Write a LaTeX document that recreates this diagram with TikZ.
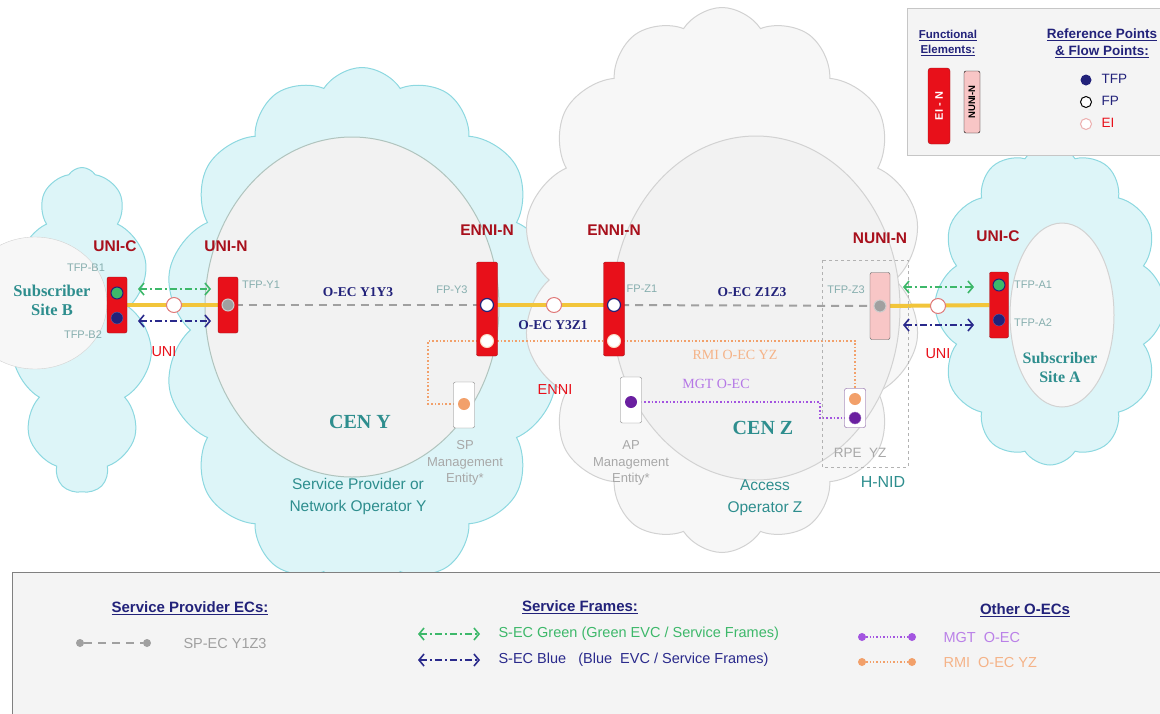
\documentclass[tikz,border=0pt]{standalone}
\usepackage{fontspec}
\setmainfont{Liberation Sans}
\newfontfamily\serifbold{Liberation Serif}
\usetikzlibrary{shapes.symbols,arrows.meta}

\definecolor{elemred}{HTML}{E8101A}
\definecolor{elemrim}{HTML}{A01018}
\definecolor{darkred}{HTML}{A8101C}
\definecolor{navy}{HTML}{22227A}
\definecolor{sitetext}{HTML}{2E8E8E}
\definecolor{tfpgray}{HTML}{86AEAE}
\definecolor{evcgreen}{HTML}{3DB86A}
\definecolor{evcblue}{HTML}{2A2A8C}
\definecolor{uniyellow}{HTML}{F2C53A}
\definecolor{ecgray}{HTML}{A0A0A0}
\definecolor{eirim}{HTML}{E07A7A}
\definecolor{rmiorange}{HTML}{F2A06A}
\definecolor{mgtpurple}{HTML}{A355E0}
\definecolor{rpepurple}{HTML}{6A1FA0}
\definecolor{cyanfill}{HTML}{DDF5F8}
\definecolor{cyanrim}{HTML}{8CD8E0}
\definecolor{grayfill}{HTML}{F7F7F7}
\definecolor{grayrim}{HTML}{D2D2D2}
\definecolor{cenfill}{HTML}{F2F2F2}
\definecolor{cenrim}{HTML}{B0C4BE}
\definecolor{keyfill}{HTML}{F4F4F4}
\definecolor{nunipink}{HTML}{F8C6C6}
\definecolor{mgmtgray}{HTML}{A8A8A8}

\pgfdeclarelayer{back}
\pgfdeclarelayer{wires}
\pgfsetlayers{back,wires,main}

\begin{document}
\begin{tikzpicture}[x=1pt,y=-1pt,
    elem/.style={draw=elemrim,fill=elemred,rounded corners=2pt,minimum width=20pt,inner sep=0pt},
    fe/.style={text=darkred,font=\fontsize{15.5}{15.5}\selectfont\bfseries},
    tfp/.style={text=tfpgray,font=\fontsize{11}{11}\selectfont},
    oec/.style={text=navy,font=\fontsize{13.5}{13.5}\serifbold\bfseries},
    spot/.style={circle,inner sep=0pt,minimum size=12pt},
    ei/.style={spot,draw=eirim,fill=white,line width=1pt,minimum size=15pt},
    fp/.style={spot,draw=navy,fill=white,line width=1.2pt,minimum size=13pt},
    uniline/.style={uniyellow,line width=4pt},
    ecline/.style={ecgray,line width=2pt,dash pattern=on 8pt off 6pt},
    sframe/.style={line width=1.6pt,dash pattern=on 7pt off 3pt on 2pt off 3pt,
      {Straight Barb[length=5pt,width=12pt]}-{Straight Barb[length=5pt,width=12pt]}},
    mbox/.style={draw=gray,fill=white,rounded corners=2pt,minimum width=21pt,minimum height=46pt},
    keyhead/.style={text=navy,align=center,font=\fontsize{15}{18}\selectfont\bfseries},
    keytext/.style={anchor=west,font=\fontsize{14.5}{14.5}\selectfont}]
\useasboundingbox (0,0) rectangle (1160,713);

% clouds and networks
\begin{pgfonlayer}{back}
  \node[cloud,cloud puffs=11,cloud puff arc=115,cloud ignores aspect,draw=cyanrim,fill=cyanfill,
    line width=1pt,minimum width=140pt,minimum height=325pt] (cloudB) at (82,330) {};
  \fill[grayfill,draw=grayrim] (35,303) ellipse [x radius=72,y radius=66];
  \node[cloud,cloud puffs=14,cloud puff arc=115,cloud ignores aspect,draw=cyanrim,fill=cyanfill,
    line width=1pt,minimum width=395pt,minimum height=525pt] (cloudY) at (362,330) {};
  \node[cloud,cloud puffs=14,cloud puff arc=115,cloud ignores aspect,draw=grayrim,fill=grayfill,
    line width=1pt,minimum width=400pt,minimum height=545pt] (cloudZ) at (722,280) {};
  \node[cloud,cloud puffs=12,cloud puff arc=115,cloud ignores aspect,draw=cyanrim,fill=cyanfill,
    line width=1pt,minimum width=230pt,minimum height=320pt] (cloudA) at (1050,305) {};
  \fill[grayfill,draw=grayrim,line width=1pt] (1062,315) ellipse [x radius=52,y radius=92];
  \fill[cenfill,draw=cenrim,line width=1pt] (352,307) ellipse [x radius=147,y radius=170];
  \fill[cenfill,draw=grayrim,line width=1pt] (756,308) ellipse [x radius=144,y radius=172];
\end{pgfonlayer}

\node[text=sitetext,font=\fontsize{16.5}{19}\serifbold\bfseries,align=center] (siteB) at (52,300) {Subscriber\\Site B};
\node[text=sitetext,font=\fontsize{16}{19}\serifbold\bfseries,align=center] (siteA) at (1060,368) {Subscriber\\Site A};
\node[text=sitetext,font=\fontsize{20}{20}\serifbold\bfseries] (cenY) at (360,422) {CEN Y};
\node[text=sitetext,font=\fontsize{20}{20}\serifbold\bfseries] (cenZ) at (763,428) {CEN Z};
\node[text=sitetext,font=\fontsize{15.5}{22}\selectfont,align=center] (opY) at (358,496) {Service Provider or\\Network Operator Y};
\node[text=sitetext,font=\fontsize{15.5}{22}\selectfont,align=center] (opZ) at (765,498) {Access\\Operator Z};

% H-NID
\draw[gray!60,dashed,line width=1pt] (822,260) rectangle (908,467);
\node[text=sitetext,font=\fontsize{16}{16}\selectfont] (hnid) at (883,482) {H-NID};
\node[text=mgmtgray,font=\fontsize{13.5}{13.5}\selectfont] (rpelbl) at (860,453) {RPE\ \ YZ};

% functional elements
\node[elem,minimum height=56pt] (ucB) at (117,305) {};
\node[elem,minimum height=56pt] (unB) at (228,305) {};
\node[elem,minimum width=21pt,minimum height=94pt] (ennY) at (487,309) {};
\node[elem,minimum width=21pt,minimum height=94pt] (ennZ) at (614,309) {};
\node[elem,draw=gray!70!black,fill=nunipink,minimum height=67pt] (nuni) at (880,306) {};
\node[elem,minimum width=19pt,minimum height=66pt] (ucA) at (999,305) {};

\node[fe] (ucBlbl) at (115,246) {UNI-C};
\node[fe] (unBlbl) at (226,246) {UNI-N};
\node[fe] (ennYlbl) at (487,230) {ENNI-N};
\node[fe] (ennZlbl) at (614,230) {ENNI-N};
\node[fe] (nunilbl) at (880,238) {NUNI-N};
\node[fe] (ucAlbl) at (998,236) {UNI-C};

% flow points
\node[spot,draw=navy,fill=evcgreen,line width=1pt] (ucBg) at (117,293) {};
\node[spot,draw=navy!70,fill=navy] (ucBb) at (117,318) {};
\node[spot,draw=gray!40,fill=ecgray,line width=1pt] (unBd) at (228,305) {};
\node[fp] (ennYfp) at (487,305) {};
\node[spot,draw=rmiorange!40,fill=white,line width=1pt,minimum size=13pt] (ennYei) at (487,341) {};
\node[fp] (ennZfp) at (614,305) {};
\node[spot,draw=rmiorange!40,fill=white,line width=1pt,minimum size=13pt] (ennZei) at (614,341) {};
\node[spot,draw=gray!40,fill=ecgray,line width=1pt] (nunid) at (880,306) {};
\node[spot,draw=navy,fill=evcgreen,line width=1pt] (ucAg) at (999,285) {};
\node[spot,draw=navy!70,fill=navy] (ucAb) at (999,320) {};
\node[ei] (eiB) at (174,305) {};
\node[ei] (eiE) at (554,305) {};
\node[ei] (eiA) at (938,306) {};

\node[tfp] (tfpB1) at (86,268) {TFP-B1};
\node[tfp] (tfpB2) at (83,335) {TFP-B2};
\node[tfp] (tfpY1) at (261,285) {TFP-Y1};
\node[tfp] (fpY3) at (452,290) {FP-Y3};
\node[tfp] (fpZ1) at (642,289) {FP-Z1};
\node[tfp] (tfpZ3) at (846,290) {TFP-Z3};
\node[tfp] (tfpA1) at (1033,285) {TFP-A1};
\node[tfp] (tfpA2) at (1033,323) {TFP-A2};

\node[oec] (oecY1Y3) at (358,292) {O-EC Y1Y3};
\node[oec] (oecY3Z1) at (553,325) {O-EC Y3Z1};
\node[oec] (oecZ1Z3) at (752,292) {O-EC Z1Z3};

\node[text=elemred,font=\fontsize{14.5}{14.5}\selectfont] (uniB) at (164,352) {UNI};
\node[text=elemred,font=\fontsize{14.5}{14.5}\selectfont] (enni) at (555,390) {ENNI};
\node[text=elemred,font=\fontsize{14.5}{14.5}\selectfont] (uniA) at (938,354) {UNI};

% management entities
\node[mbox] (spm) at (464,405) {};
\node[spot,fill=rmiorange] (spmO) at (464,404) {};
\node[mbox] (apm) at (631,400) {};
\node[spot,fill=rpepurple] (apmP) at (631,402) {};
\node[mbox,draw=rpepurple!60!gray,minimum height=39pt] (rpe) at (855,408) {};
\node[spot,fill=rmiorange] (rpeO) at (855,399) {};
\node[spot,fill=rpepurple,draw=rpepurple!60] (rpeP) at (855,418) {};
\node[text=mgmtgray,align=center,font=\fontsize{13}{16.5}\selectfont] (spmlbl) at (465,463) {SP\\Management\\Entity*};
\node[text=mgmtgray,align=center,font=\fontsize{13}{16.5}\selectfont] (apmlbl) at (631,463) {AP\\Management\\Entity*};

\node[text=rmiorange!80,font=\fontsize{14}{14}\serifbold] (rmilbl) at (735,355) {RMI O-EC YZ};
\node[text=mgtpurple!80,font=\fontsize{14}{14}\serifbold] (mgtlbl) at (716,384) {MGT O-EC};

\coordinate (rmiL) at (428,341);
\coordinate (rmiR) at (855,341);
\coordinate (mgtK) at (820,402);

\begin{pgfonlayer}{wires}
  \draw[uniline] (ucB) -- (unB);
  \draw[uniline] (ennYfp) -- (ennZfp);
  \draw[uniline] (nuni) -- (ucA);
  \draw[ecline] (unBd) -- (ennYfp);
  \draw[ecline] (ennZfp) -- (nunid);
  \draw[rmiorange,line width=1.6pt,dotted] (spmO) -| (rmiL) -- (rmiR) -- (rpeO);
  \draw[mgtpurple,line width=1.6pt,dotted] (apmP) -- (mgtK) |- (rpeP);
\end{pgfonlayer}

% service frames
\coordinate (gB1) at (138,289); \coordinate (gB2) at (211,289);
\coordinate (bB1) at (138,321); \coordinate (bB2) at (211,321);
\coordinate (gA1) at (903,287); \coordinate (gA2) at (974,287);
\coordinate (bA1) at (903,325); \coordinate (bA2) at (974,325);
\draw[sframe,evcgreen] (gB1) -- (gB2);
\draw[sframe,evcblue] (bB1) -- (bB2);
\draw[sframe,evcgreen] (gA1) -- (gA2);
\draw[sframe,evcblue] (bA1) -- (bA2);

% key, top right
\draw[gray!45,fill=keyfill] (907,8) rectangle (1170,155);
\node[keyhead,font=\fontsize{11.5}{15}\selectfont\bfseries] (keyfe) at (948,43) {\underline{Functional}\\\underline{Elements:}};
\node[keyhead,font=\fontsize{13.5}{17}\selectfont\bfseries] (keyrp) at (1102,43) {\underline{Reference Points}\\\underline{\&\ Flow Points:}};
\node[elem,rotate=90,minimum width=76pt,minimum height=22pt,rounded corners=3pt,
  text=white,font=\fontsize{11}{11}\selectfont\bfseries] (keyei) at (939,106) {EI - N};
\node[elem,rotate=90,draw=black,fill=nunipink,minimum width=62pt,minimum height=16pt,
  font=\fontsize{9.5}{9.5}\selectfont\bfseries] (keynuni) at (972,102) {NUNI-N};
\node[spot,fill=navy,minimum size=11pt] (keytfp) at (1086,80) {};
\node[spot,draw=black,fill=white,line width=1pt,minimum size=11pt] (keyfp) at (1086,102) {};
\node[spot,draw=eirim!60,fill=white,line width=1pt,minimum size=11pt] (keyeidot) at (1086,124) {};
\node[keytext,text=navy,font=\fontsize{13.5}{13.5}\selectfont] (keytfplbl) at (1098,79) {TFP};
\node[keytext,text=navy,font=\fontsize{13.5}{13.5}\selectfont] (keyfplbl) at (1098,101) {FP};
\node[keytext,text=elemred,font=\fontsize{13.5}{13.5}\selectfont] (keyeilbl) at (1098,123) {EI};

% key, bottom
\draw[gray,fill=keyfill,line width=1pt] (12,572) rectangle (1175,725);
\node[keyhead] (hdsp) at (190,608) {\underline{Service Provider ECs:}};
\node[keyhead] (hdsf) at (580,607) {\underline{Service Frames:}};
\node[keyhead] (hdoec) at (1025,610) {\underline{Other O-ECs}};

\node[spot,fill=ecgray,minimum size=8pt] (spe1) at (80,643) {};
\node[spot,fill=ecgray,minimum size=8pt] (spe2) at (147,643) {};
\draw[ecgray,line width=1.6pt,dash pattern=on 8pt off 6pt] (spe1) -- (spe2);
\node[keytext,text=ecgray] (spelbl) at (180,643) {SP-EC Y1Z3};

\coordinate (kg1) at (418,634); \coordinate (kg2) at (480,634);
\coordinate (kb1) at (418,660); \coordinate (kb2) at (480,660);
\draw[sframe,evcgreen] (kg1) -- (kg2);
\draw[sframe,evcblue] (kb1) -- (kb2);
\node[keytext,text=evcgreen] (kglbl) at (495,634) {S-EC Green (Green EVC / Service Frames)};
\node[keytext,text=evcblue] (kblbl) at (495,660) {S-EC Blue\ \ \ (Blue\ \ EVC / Service Frames)};

\node[spot,fill=mgtpurple,minimum size=8pt] (km1) at (862,637) {};
\node[spot,fill=mgtpurple,minimum size=8pt] (km2) at (912,637) {};
\draw[mgtpurple,line width=1.4pt,dotted] (km1) -- (km2);
\node[keytext,text=mgtpurple!75] (kmlbl) at (940,637) {MGT\ \ O-EC};
\node[spot,fill=rmiorange,minimum size=8pt] (kr1) at (862,662) {};
\node[spot,fill=rmiorange,minimum size=8pt] (kr2) at (912,662) {};
\draw[rmiorange,line width=1.4pt,dotted] (kr1) -- (kr2);
\node[keytext,text=rmiorange!80] (krlbl) at (940,662) {RMI\ \ O-EC YZ};
\end{tikzpicture}
\end{document}
